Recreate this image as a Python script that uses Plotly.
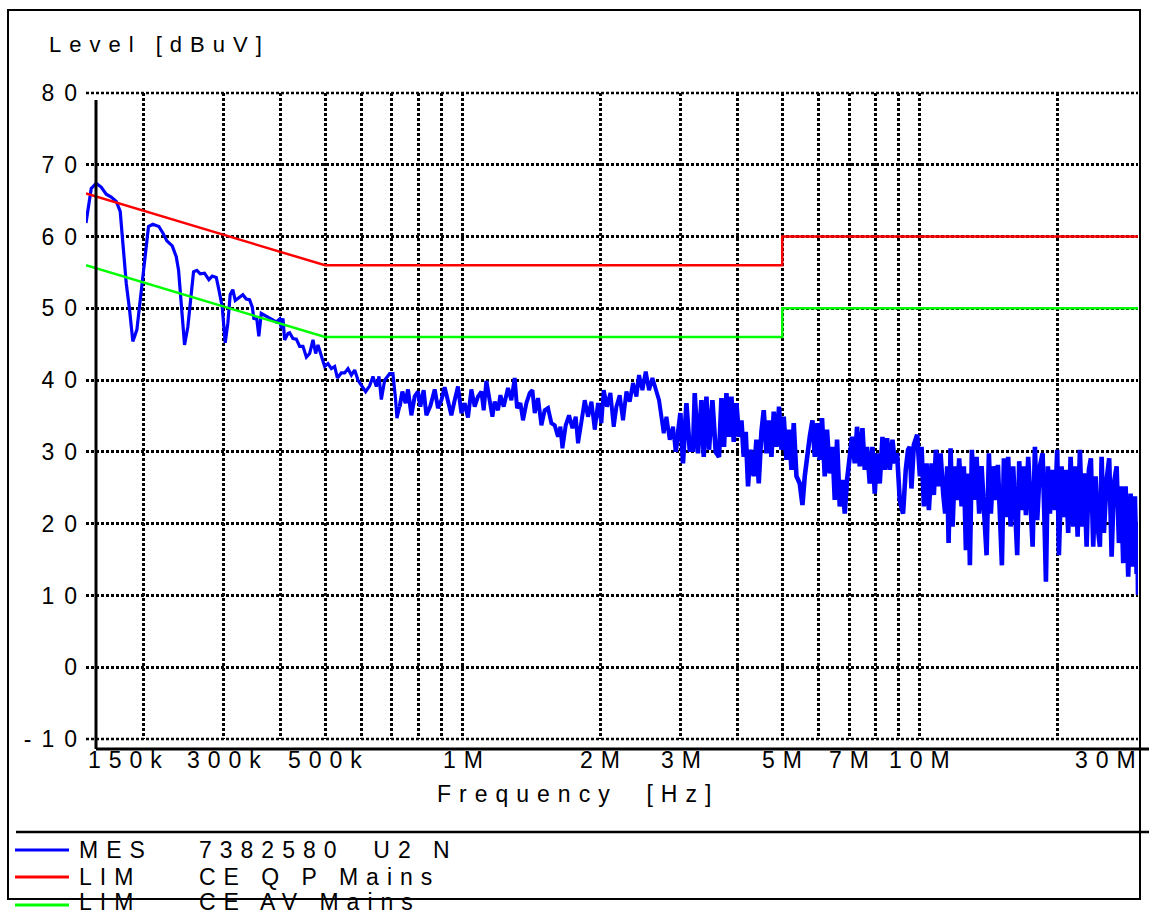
import math
import plotly.graph_objects as go

# ---------------- data ----------------
# measured level (MES 7382580 U2 N): frequency in MHz, level in dBuV
mes_freq_mhz = [
    0.15, 0.1521, 0.1540, 0.1579, 0.1619, 0.1661, 0.1703, 0.1747, 0.1782, 0.1806,
    0.1837, 0.1868, 0.1899, 0.1938, 0.1964, 0.1991, 0.2024, 0.2055, 0.2100, 0.2165,
    0.2209, 0.2254, 0.2316, 0.2363, 0.2391, 0.2423, 0.2464, 0.2505, 0.2540, 0.2578,
    0.2621, 0.2667, 0.2725, 0.2785, 0.2833, 0.2891, 0.2929, 0.2979, 0.3024, 0.3064,
    0.3101, 0.3142, 0.3181, 0.3239, 0.3305, 0.3362, 0.3418, 0.3465, 0.3493, 0.3546,
    0.3582, 0.3626, 0.3718, 0.3813, 0.3910, 0.3978, 0.4012, 0.4045, 0.4079, 0.4148,
    0.4183, 0.4254, 0.4327, 0.4400, 0.4473, 0.4551, 0.4627, 0.4705, 0.4769, 0.4825,
    0.4908, 0.4990, 0.5074, 0.5161, 0.5248, 0.5320, 0.5428, 0.5519, 0.5612, 0.5708,
    0.5804, 0.5902, 0.6001, 0.6135, 0.6259, 0.6364, 0.6474, 0.6560, 0.6639, 0.6751,
    0.6923, 0.7039, 0.7135, 0.7182, 0.7281, 0.7380, 0.7504, 0.7592, 0.7723, 0.7852,
    0.7984, 0.8081, 0.8216, 0.8329, 0.8499, 0.8685, 0.8830, 0.8983, 0.9133, 0.9286,
    0.9447, 0.9605, 0.9766, 0.9935, 1.0101, 1.0271, 1.0448, 1.0623, 1.0801, 1.0988,
    1.1116, 1.1268, 1.1457, 1.1614, 1.1750, 1.1947, 1.2092, 1.2295, 1.2564, 1.2781,
    1.2995, 1.3147, 1.3374, 1.3550, 1.3785, 1.4016, 1.4208, 1.4373, 1.4615, 1.4867,
    1.5116, 1.5369, 1.5635, 1.5897, 1.6164, 1.6360, 1.6526, 1.6803, 1.7085, 1.7380,
    1.7671, 1.7877, 1.8186, 1.8491, 1.8801, 1.9126, 1.9447, 1.9773, 2.0111, 2.0346,
    2.0687, 2.1044, 2.1397, 2.1690, 2.2054, 2.2424, 2.2811, 2.3193, 2.3582, 2.3990,
    2.4306, 2.4726, 2.5141, 2.5562, 2.6004, 2.6440, 2.6883, 2.7210, 2.7527, 2.7904,
    2.8372, 2.8847, 2.9242, 2.9583, 2.9940, 3.0334, 3.0859, 3.1376, 3.1902, 3.2177,
    3.2716, 3.3281, 3.3669, 3.4130, 3.4580, 3.5177, 3.5767, 3.6366, 3.6810, 3.7295,
    3.7749, 3.8247, 3.8712, 3.9163, 3.9699, 4.0222, 4.0712, 4.1186, 4.1603, 4.2088,
    4.2600, 4.3314, 4.3907, 4.4419, 4.5027, 4.5552, 4.6176, 4.6785, 4.7354, 4.7906,
    4.8562, 4.9202, 4.9801, 5.0379, 5.1069, 5.1743, 5.2372, 5.2983, 5.3708, 5.4609,
    5.5357, 5.6002, 5.6655, 5.7431, 5.8218, 5.8896, 5.9698, 6.0394, 6.1098, 6.1935,
    6.2657, 6.3516, 6.4385, 6.5136, 6.5895, 6.6798, 6.7712, 6.8502, 6.9300, 7.0247,
    7.1066, 7.2039, 7.2879, 7.3877, 7.4889, 7.5762, 7.6645, 7.7694, 7.8758, 7.9676,
    8.0606, 8.1711, 8.2831, 8.3796, 8.4773, 8.5934, 8.7111, 8.8127, 8.9154, 9.0363,
    9.1879, 9.3137, 9.4223, 9.5033, 9.5851, 9.7022, 9.8649, 10.000, 10.086, 10.204,
    10.343, 10.464, 10.607, 10.731, 10.840, 10.966, 11.099, 11.246, 11.360, 11.475,
    11.556, 11.673, 11.791, 11.929, 12.068, 12.190, 12.338, 12.482, 12.608, 12.755,
    12.865, 12.995, 13.127, 13.307, 13.482, 13.646, 13.805, 13.994, 14.157, 14.301,
    14.468, 14.666, 14.815, 14.965, 15.116, 15.269, 15.424, 15.604, 15.793, 16.002,
    16.164, 16.328, 16.493, 16.694, 16.888, 17.059, 17.258, 17.468, 17.645, 17.851,
    18.059, 18.306, 18.557, 18.745, 18.868, 19.059, 19.252, 19.516, 19.743, 19.973,
    20.141, 20.417, 20.655, 20.865, 21.108, 21.365, 21.647, 21.910, 22.132, 22.390,
    22.651, 22.880, 23.158, 23.428, 23.665, 23.941, 24.233, 24.478, 24.763, 24.976,
    25.267, 25.613, 25.951, 26.267, 26.573, 26.937, 27.251, 27.527, 27.848, 28.187,
    28.558, 28.905, 29.198, 29.539, 29.793, 29.900, 30.000,
]
mes_level_dbuv = [
    61.9, 64.2, 66.7, 67.4, 66.9, 65.9, 65.5, 64.9, 63.5, 59.1,
    53.5, 49.8, 45.4, 47.0, 50.2, 54.0, 57.2, 61.4, 61.7, 61.4,
    60.5, 59.4, 58.7, 57.2, 55.3, 51.2, 44.9, 47.4, 50.7, 55.1,
    55.3, 54.8, 54.9, 54.0, 54.5, 54.3, 52.6, 50.2, 45.2, 47.9,
    51.9, 52.6, 51.1, 51.5, 51.9, 51.3, 51.2, 50.2, 48.6, 48.5,
    46.1, 49.3, 48.9, 48.6, 48.1, 48.5, 47.2, 48.6, 45.6, 46.5,
    46.6, 45.8, 45.7, 44.7, 44.7, 43.2, 43.7, 45.6, 43.7, 44.9,
    43.5, 41.9, 42.3, 41.6, 41.9, 40.3, 41.0, 41.0, 41.6, 40.7,
    41.4, 40.0, 39.3, 38.4, 39.2, 40.5, 39.1, 40.5, 37.3, 40.0,
    40.9, 40.9, 37.2, 34.7, 36.3, 38.4, 36.8, 38.7, 35.1, 37.7,
    38.4, 36.3, 38.6, 35.1, 36.4, 38.7, 36.1, 37.2, 39.0, 37.2,
    35.1, 37.2, 39.1, 35.4, 36.8, 34.8, 38.7, 36.3, 37.7, 38.4,
    35.8, 39.9, 36.8, 34.9, 37.0, 35.8, 37.9, 36.3, 38.9, 37.2,
    40.3, 36.1, 36.8, 34.4, 36.8, 38.2, 38.6, 35.4, 37.5, 33.7,
    35.8, 36.1, 34.0, 33.7, 32.1, 33.5, 30.5, 33.7, 35.1, 33.3,
    34.9, 31.2, 34.2, 37.2, 34.9, 37.0, 33.1, 36.8, 34.0, 38.6,
    36.3, 38.2, 33.5, 36.3, 37.9, 34.4, 38.4, 37.0, 39.6, 37.7,
    40.7, 38.6, 41.2, 38.6, 40.3, 38.6, 37.2, 34.9, 32.6, 34.9,
    31.7, 33.5, 30.0, 33.1, 35.4, 28.4, 36.8, 30.3, 30.3, 38.2,
    29.8, 37.2, 29.3, 37.7, 30.3, 37.2, 30.0, 29.3, 37.5, 30.7,
    38.2, 32.1, 37.7, 31.4, 36.8, 32.1, 34.4, 29.3, 32.8, 25.2,
    30.3, 26.6, 31.7, 25.6, 32.8, 35.8, 29.8, 34.4, 29.3, 35.6,
    30.7, 36.3, 30.3, 34.9, 28.9, 33.1, 27.5, 34.0, 26.6, 25.6,
    22.6, 26.6, 29.8, 32.1, 34.4, 29.3, 34.0, 28.9, 34.7, 26.6,
    33.1, 27.0, 30.7, 23.3, 31.7, 22.4, 26.1, 21.4, 26.1, 29.3,
    32.1, 28.4, 33.5, 28.0, 33.3, 27.5, 30.7, 25.6, 30.7, 24.2,
    29.8, 25.6, 32.1, 27.5, 31.9, 27.5, 31.7, 28.4, 29.8, 23.3,
    21.4, 27.5, 30.3, 30.7, 24.9, 31.0, 32.4, 26.6, 30.7, 22.4,
    28.4, 21.9, 28.4, 24.0, 30.3, 25.2, 29.8, 24.2, 21.4, 28.0,
    17.3, 30.5, 19.6, 28.0, 23.3, 29.1, 22.4, 28.0, 16.3, 27.0,
    14.2, 30.3, 23.3, 29.3, 21.4, 28.0, 20.9, 15.6, 29.8, 21.4,
    28.0, 23.3, 28.2, 18.7, 14.2, 29.1, 20.9, 29.3, 19.6, 28.0,
    21.4, 15.6, 28.7, 21.9, 28.0, 21.2, 29.3, 22.8, 16.8, 30.7,
    20.5, 28.0, 29.8, 19.6, 11.9, 28.0, 21.4, 27.5, 21.9, 30.3,
    15.6, 28.0, 20.9, 27.5, 18.7, 29.3, 19.6, 28.0, 18.2, 30.3,
    19.6, 27.0, 16.8, 27.5, 29.1, 16.8, 26.6, 19.6, 16.8, 29.3,
    18.7, 26.1, 29.1, 15.4, 25.6, 28.0, 17.3, 25.2, 14.5, 25.2,
    12.6, 24.2, 14.0, 23.8, 13.0, 20.0, 10.1,
]

# limit lines (frequency in MHz, level in dBuV)
lim_freq_mhz = [0.15, 0.5, 5.0, 5.0, 30.0]
lim_qp_dbuv = [66, 56, 56, 60, 60]
lim_av_dbuv = [56, 46, 46, 50, 50]

# axis ticks
y_range = [-10, 80]
y_tick_vals = [-10, 0, 10, 20, 30, 40, 50, 60, 70, 80]
y_tick_text = ["-10", "0", "10", "20", "30", "40", "50", "60", "70", "80"]
x_grid_mhz = [0.2, 0.3, 0.4, 0.5, 0.6, 0.7, 0.8, 0.9,
              1, 2, 3, 4, 5, 6, 7, 8, 9, 10, 20, 30]
x_label_mhz = [0.15, 0.3, 0.5, 1, 2, 3, 5, 7, 10, 30]
x_label_text = ["150k", "300k", "500k", "1M", "2M", "3M", "5M", "7M", "10M", "30M"]

legend_names = ["MES", "LIM", "LIM"]
legend_desc = ["7382580  U2 N", "CE Q P Mains", "CE AV Mains"]
legend_colors = ["#0000ff", "#ff0000", "#00ff00"]

# ---------------- layout geometry (pixels) ----------------
W, H = 1149, 916
ML, MR, MT, MB = 86, 11, 93, 177
PW, PH = W - ML - MR, H - MT - MB


def px(x):
    return (x - ML) / PW


def py(y):
    return (H - MB - y) / PH


FONT = "Liberation Sans, Arial, Helvetica, sans-serif"
FS = 23
GRID_DASH = "3px,2px"

fig = go.Figure()

# the noisy parts of the sweep are drawn with heavier pens (same series)
pen_breaks_mhz = [0.72, 2.9]
pen_widths = [3.2, 4.0, 4.6]
idx = [0] + [next(i for i, f in enumerate(mes_freq_mhz) if f >= b)
             for b in pen_breaks_mhz] + [len(mes_freq_mhz) - 1]
for k, wdt in enumerate(pen_widths):
    a, b = idx[k], idx[k + 1] + 1
    fig.add_trace(go.Scatter(x=mes_freq_mhz[a:b], y=mes_level_dbuv[a:b],
                             mode="lines", line=dict(color=legend_colors[0], width=wdt),
                             name="MES 7382580 U2 N", hoverinfo="skip"))
fig.add_trace(go.Scatter(x=lim_freq_mhz, y=lim_qp_dbuv, mode="lines",
                         line=dict(color=legend_colors[1], width=2.5),
                         name="LIM CE QP Mains", hoverinfo="skip"))
fig.add_trace(go.Scatter(x=lim_freq_mhz, y=lim_av_dbuv, mode="lines",
                         line=dict(color=legend_colors[2], width=2.5),
                         name="LIM CE AV Mains", hoverinfo="skip"))

grid_style = dict(showgrid=True, gridcolor="black", gridwidth=2.5,
                  griddash=GRID_DASH, zeroline=False, showline=False, ticks="")

fig.update_xaxes(type="log", range=[math.log10(0.15), math.log10(30)],
                 tickmode="array", tickvals=x_grid_mhz, showticklabels=False,
                 **grid_style)
fig.update_yaxes(range=y_range, tickmode="array", tickvals=y_tick_vals,
                 ticktext=y_tick_text, ticklabelstandoff=-2,
                 tickfont=dict(family=FONT, size=FS, color="black"),
                 **grid_style)

shapes = []
# grid lines at the top and bottom edge of the plot (plotly skips them)
for yp in (0, 1):
    shapes.append(dict(type="line", xref="paper", yref="paper", x0=0, x1=1,
                       y0=yp, y1=yp, layer="below",
                       line=dict(color="black", width=2.5, dash=GRID_DASH)))
# outer frame
shapes.append(dict(type="rect", xref="paper", yref="paper",
                   x0=px(8), x1=px(1140), y0=py(899), y1=py(10),
                   line=dict(color="black", width=2), fillcolor="rgba(0,0,0,0)"))
# offset axis lines
shapes.append(dict(type="line", xref="paper", yref="paper",
                   x0=px(96), x1=px(96), y0=py(100), y1=py(749),
                   line=dict(color="black", width=3)))
shapes.append(dict(type="line", xref="paper", yref="paper",
                   x0=px(96), x1=px(1149), y0=py(749), y1=py(749),
                   line=dict(color="black", width=3)))
# legend separator
shapes.append(dict(type="line", xref="paper", yref="paper",
                   x0=px(16), x1=px(1149), y0=py(832), y1=py(832),
                   line=dict(color="black", width=2.5)))

annotations = []
legend_line_y = [850, 877, 905]
legend_text_y = [850, 877, 902]
for name, desc, col, ly, ty in zip(legend_names, legend_desc, legend_colors,
                                   legend_line_y, legend_text_y):
    shapes.append(dict(type="line", xref="paper", yref="paper",
                       x0=px(15), x1=px(69), y0=py(ly), y1=py(ly),
                       line=dict(color=col, width=3)))
    annotations.append(dict(xref="paper", yref="paper", x=px(77), y=py(ty),
                            text=name, showarrow=False, xanchor="left",
                            align="left", yanchor="middle",
                            font=dict(family=FONT, size=FS, color="black")))
    annotations.append(dict(xref="paper", yref="paper", x=px(197), y=py(ty),
                            text=desc, showarrow=False, xanchor="left",
                            align="left", yanchor="middle",
                            font=dict(family=FONT, size=FS, color="black")))

# x tick labels
for f, t in zip(x_label_mhz, x_label_text):
    if f == x_label_mhz[0]:
        xa, al, sh = "left", "left", 0
    elif f == x_label_mhz[-1]:
        xa, al, sh = "right", "right", 8
    else:
        xa, al, sh = "center", "center", 4
    annotations.append(dict(xref="x", yref="paper", x=math.log10(f), y=py(760),
                            text=t, showarrow=False, xanchor=xa, align=al,
                            yanchor="middle", xshift=sh,
                            font=dict(family=FONT, size=FS, color="black")))

# axis titles
annotations.append(dict(xref="paper", yref="paper", x=px(47), y=py(44),
                        text="Level [dBuV]", showarrow=False, xanchor="left",
                        align="left", yanchor="middle",
                        font=dict(family=FONT, size=FS - 1, color="black")))
annotations.append(dict(xref="paper", yref="paper", x=px(435), y=py(794),
                        text="Frequency  [Hz]", showarrow=False, xanchor="left",
                        align="left", yanchor="middle",
                        font=dict(family=FONT, size=FS, color="black")))

fig.update_layout(width=W, height=H,
                  margin=dict(l=ML, r=MR, t=MT, b=MB, pad=0),
                  paper_bgcolor="white", plot_bgcolor="white",
                  showlegend=False, shapes=shapes, annotations=annotations,
                  font=dict(family=FONT, size=FS, color="black"))

post = """
document.body.style.margin='0';
document.body.style.overflow='hidden';
var st=document.createElement('style');
st.textContent='.main-svg text{letter-spacing:8px;} .main-svg g.ytick text{letter-spacing:10px;}';
document.head.appendChild(st);
"""

fig.write_html("out.html", config={"displayModeBar": False}, post_script=post)
